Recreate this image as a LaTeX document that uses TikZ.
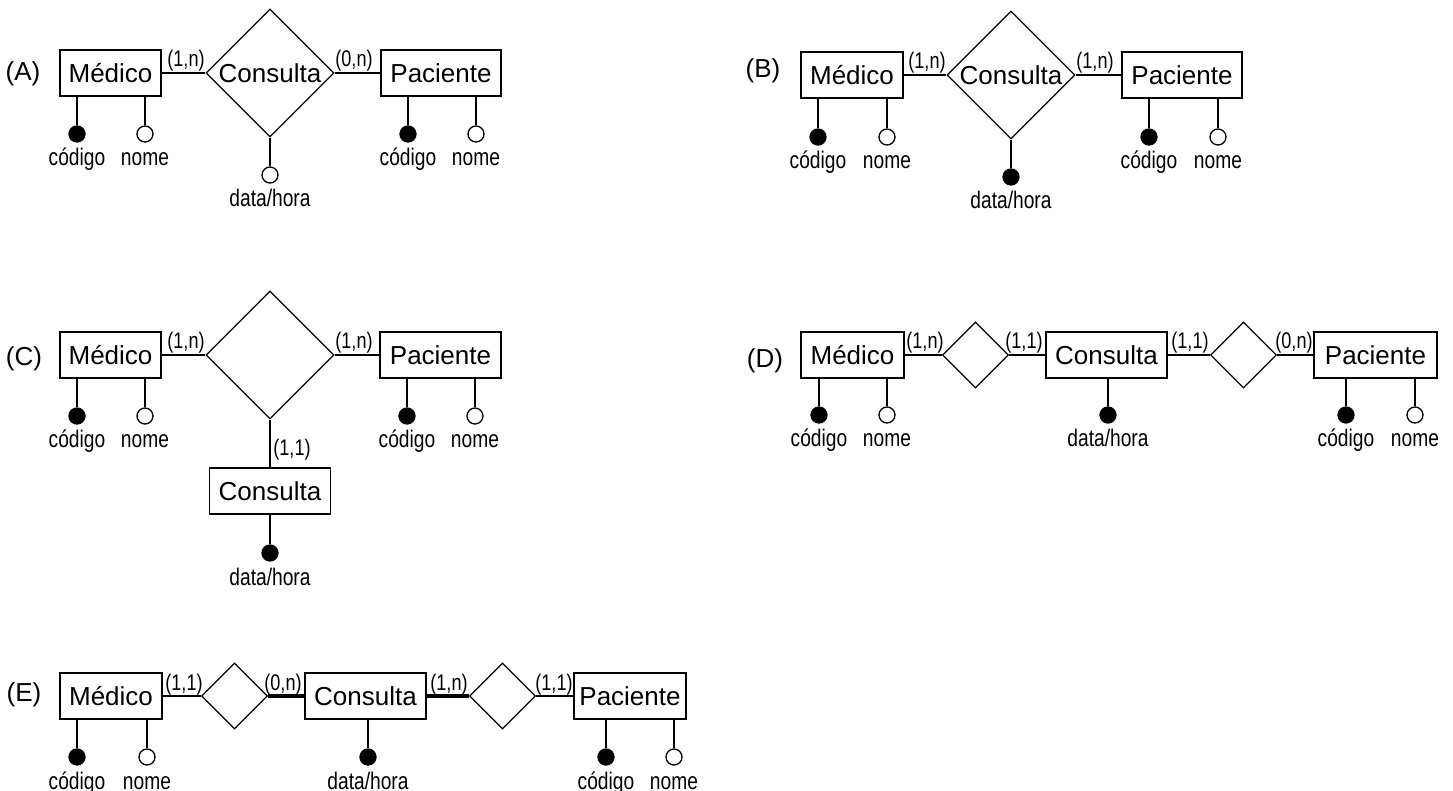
\documentclass[tikz,border=0pt]{standalone}
\usepackage{fontspec}
\setmainfont{Liberation Sans}
\newfontfamily\narrowfont{Liberation Sans}[FakeStretch=0.8]
\usetikzlibrary{shapes.geometric}

% attribute: name, owner, x, y, style, text
\newcommand{\erattr}[6]{%
  \node[#5] (#1) at (#3,#4) {};
  \node[lbl] (#1t) at (#3,#4+32) {#6};
  \draw (#2.south -| #1) -- (#1);
}

\begin{document}
\begin{tikzpicture}[x=0.5pt,y=-0.5pt,line width=0.65pt,
    big/.style={font=\fontsize{13}{15}\selectfont},
    ent/.style={big,draw,minimum height=23pt,inner sep=0pt},
    rel/.style={big,draw,diamond,inner sep=0pt,minimum size=64pt},
    relsm/.style={draw,diamond,inner sep=0pt,minimum size=33pt},
    key/.style={draw,circle,fill=black,minimum size=8pt,inner sep=0pt},
    opt/.style={draw,circle,fill=white,minimum size=8pt,inner sep=0pt},
    lbl/.style={anchor=base,inner sep=0pt,font=\narrowfont\fontsize{12}{14}\selectfont},
    card/.style={lbl,font=\narrowfont\fontsize{11.3}{13}\selectfont},
    heavy/.style={line width=2.4pt}]
  \useasboundingbox (0,0) rectangle (1453,791);

  % (A)
  \node[big] (tA) at (23,74) {(A)};
  \node[ent,minimum width=50.5pt] (medA) at (110.5,73) {Médico};
  \node[rel] (relA) at (270,73) {Consulta};
  \node[ent,minimum width=60pt] (pacA) at (441,73) {Paciente};
  \draw (medA) -- (relA);
  \draw (relA) -- (pacA);
  \node[card] (cA1) at (186,67) {(1,n)};
  \node[card] (cA2) at (354,67) {(0,n)};
  \erattr{kA1}{medA}{77}{134}{key}{código}
  \erattr{aA1}{medA}{145}{134}{opt}{nome}
  \erattr{kA2}{pacA}{408}{134}{key}{código}
  \erattr{aA2}{pacA}{476}{134}{opt}{nome}
  \erattr{dA}{relA}{270}{175}{opt}{data/hora}

  % (B)
  \node[big] (tB) at (763,71) {(B)};
  \node[ent,minimum width=51pt] (medB) at (852,75) {Médico};
  \node[rel] (relB) at (1011,75) {Consulta};
  \node[ent,minimum width=60pt] (pacB) at (1182,75) {Paciente};
  \draw (medB) -- (relB);
  \draw (relB) -- (pacB);
  \node[card] (cB1) at (927,69) {(1,n)};
  \node[card] (cB2) at (1095,69) {(1,n)};
  \erattr{kB1}{medB}{818}{137}{key}{código}
  \erattr{aB1}{medB}{887}{137}{opt}{nome}
  \erattr{kB2}{pacB}{1149}{137}{key}{código}
  \erattr{aB2}{pacB}{1218}{137}{opt}{nome}
  \erattr{dB}{relB}{1011}{177}{key}{data/hora}

  % (C)
  \node[big] (tC) at (24,359) {(C)};
  \node[ent,minimum width=50.5pt] (medC) at (110.5,355) {Médico};
  \node[rel] (relC) at (270,355) {};
  \node[ent,minimum width=60.5pt] (pacC) at (440.5,355) {Paciente};
  \node[ent,minimum width=60.5pt] (conC) at (270,491) {Consulta};
  \draw (medC) -- (relC);
  \draw (relC) -- (pacC);
  \draw (relC) -- (conC);
  \node[card] (cC1) at (186,349) {(1,n)};
  \node[card] (cC2) at (354,349) {(1,n)};
  \node[card] (cC3) at (292,456) {(1,1)};
  \erattr{kC1}{medC}{77}{416}{key}{código}
  \erattr{aC1}{medC}{145}{416}{opt}{nome}
  \erattr{kC2}{pacC}{407}{416}{key}{código}
  \erattr{aC2}{pacC}{475}{416}{opt}{nome}
  \erattr{dC}{conC}{270}{553}{key}{data/hora}

  % (D)
  \node[big] (tD) at (765,361) {(D)};
  \node[ent,minimum width=51.5pt] (medD) at (852.5,355) {Médico};
  \node[relsm] (relD1) at (975.5,355) {};
  \node[ent,minimum width=60.5pt] (conD) at (1106.5,355) {Consulta};
  \node[relsm] (relD2) at (1243.5,355) {};
  \node[ent,minimum width=61.5pt] (pacD) at (1375.5,355) {Paciente};
  \draw (medD) -- (relD1);
  \draw (relD1) -- (conD);
  \draw (conD) -- (relD2);
  \draw (relD2) -- (pacD);
  \node[card] (cD1) at (925,349) {(1,n)};
  \node[card] (cD2) at (1024,349) {(1,1)};
  \node[card] (cD3) at (1190,349) {(1,1)};
  \node[card] (cD4) at (1294,349) {(0,n)};
  \erattr{kD1}{medD}{819}{415}{key}{código}
  \erattr{aD1}{medD}{887}{415}{opt}{nome}
  \erattr{dD}{conD}{1108}{415}{key}{data/hora}
  \erattr{kD2}{pacD}{1346}{415}{key}{código}
  \erattr{aD2}{pacD}{1415}{415}{opt}{nome}

  % (E)
  \node[big] (tE) at (24,695) {(E)};
  \node[ent,minimum width=51pt] (medE) at (111,696) {Médico};
  \node[relsm] (relE1) at (234.5,696) {};
  \node[ent,minimum width=60.5pt] (conE) at (365.5,696) {Consulta};
  \node[relsm] (relE2) at (502.5,696) {};
  \node[ent,minimum width=56pt] (pacE) at (630,696) {Paciente};
  \draw (medE) -- (relE1);
  \draw[heavy] (relE1) -- (conE);
  \draw[heavy] (conE) -- (relE2);
  \draw (relE2) -- (pacE);
  \node[card] (cE1) at (184,690) {(1,1)};
  \node[card] (cE2) at (283,690) {(0,n)};
  \node[card] (cE3) at (449,690) {(1,n)};
  \node[card] (cE4) at (554,690) {(1,1)};
  \erattr{kE1}{medE}{77}{757}{key}{código}
  \erattr{aE1}{medE}{147}{757}{opt}{nome}
  \erattr{dE}{conE}{368}{757}{key}{data/hora}
  \erattr{kE2}{pacE}{606}{757}{key}{código}
  \erattr{aE2}{pacE}{674}{757}{opt}{nome}
\end{tikzpicture}
\end{document}
